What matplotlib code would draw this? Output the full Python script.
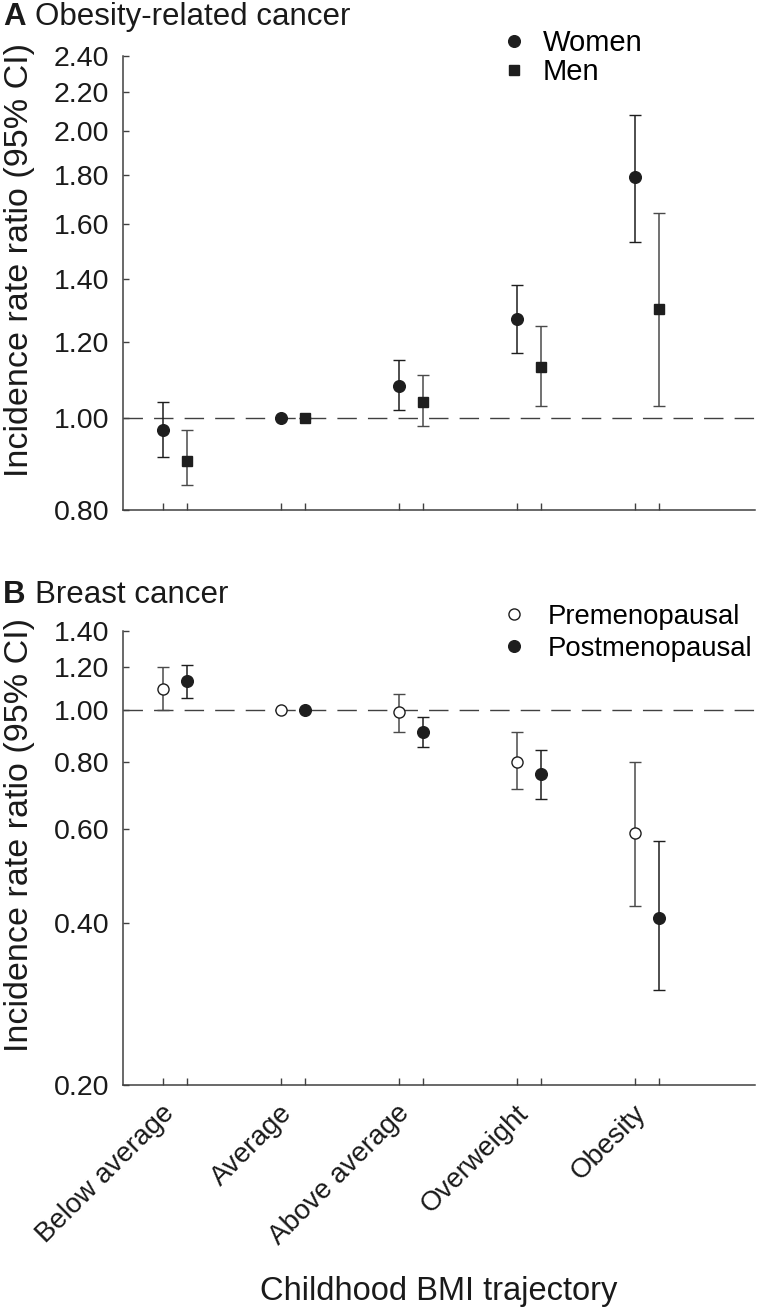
import matplotlib

matplotlib.use("Agg")
import matplotlib.pyplot as plt
import numpy as np
from matplotlib.lines import Line2D
from matplotlib.ticker import FixedLocator, FixedFormatter, NullLocator

plt.rcParams["font.family"] = ["Liberation Sans", "DejaVu Sans"]

# --- data ---
categories = ["Below average", "Average", "Above average", "Overweight", "Obesity"]

# Panel A: obesity-related cancer
women_irr = [0.97, 1.00, 1.08, 1.27, 1.79]
women_lo = [0.91, 1.00, 1.02, 1.17, 1.53]
women_hi = [1.04, 1.00, 1.15, 1.38, 2.08]
men_irr = [0.90, 1.00, 1.04, 1.13, 1.30]
men_lo = [0.85, 1.00, 0.98, 1.03, 1.03]
men_hi = [0.97, 1.00, 1.11, 1.25, 1.64]
ticks_a = [0.80, 1.00, 1.20, 1.40, 1.60, 1.80, 2.00, 2.20, 2.40]

# Panel B: breast cancer
pre_irr = [1.09, 1.00, 0.99, 0.80, 0.59]
pre_lo = [1.00, 1.00, 0.91, 0.71, 0.43]
pre_hi = [1.20, 1.00, 1.07, 0.91, 0.80]
post_irr = [1.13, 1.00, 0.91, 0.76, 0.41]
post_lo = [1.05, 1.00, 0.85, 0.68, 0.30]
post_hi = [1.21, 1.00, 0.97, 0.84, 0.57]
ticks_b = [0.20, 0.40, 0.60, 0.80, 1.00, 1.20, 1.40]

W, H = 758, 1310
fig = plt.figure(figsize=(W / 100, H / 100), dpi=100)


def px_axes(left, top, right, bottom):
    return fig.add_axes([left / W, 1 - bottom / H, (right - left) / W, (bottom - top) / H])


ax_a = px_axes(123, 56, 755, 510)
ax_b = px_axes(123, 631, 755, 1085)

x = np.arange(1, len(categories) + 1)
off = 0.1
DARK = "#1e1e1e"
GREY = "#4a4a4a"
TEXT = "#1a1a1a"


def draw_series(ax, vals, lo, hi, xs, marker, ms, face, ecol):
    vals, lo, hi = np.array(vals), np.array(lo), np.array(hi)
    ax.errorbar(xs, vals, yerr=[vals - lo, hi - vals], fmt=marker, ms=ms,
                mfc=face, mec=DARK, mew=1.0, ecolor=ecol, elinewidth=1.1,
                capsize=4.3, capthick=1.1, zorder=3)


def style_axis(ax, ticks, bottom, top):
    ax.set_yscale("log")
    ax.set_ylim(bottom, top)
    ax.set_xlim(0.56, 5.915)
    ax.yaxis.set_major_locator(FixedLocator(ticks))
    ax.yaxis.set_major_formatter(FixedFormatter([f"{t:.2f}" for t in ticks]))
    ax.yaxis.set_minor_locator(NullLocator())
    ax.set_xticks(np.concatenate([x - off, x + off]))
    ax.set_xticklabels([])
    for s in ("top", "right"):
        ax.spines[s].set_visible(False)
    for s in ("left", "bottom"):
        ax.spines[s].set_color("#404040")
        ax.spines[s].set_linewidth(1.1)
    ax.tick_params(axis="y", direction="in", length=4, width=1, color="#404040",
                   labelsize=20.5, pad=10, labelcolor=TEXT)
    ax.tick_params(axis="x", which="major", direction="in", length=5, width=1,
                   color="#404040")
    ax.axhline(1.0, color="#404040", lw=1.0, dashes=(14, 8), zorder=1)
    ax.set_ylabel("Incidence rate ratio (95% CI)", fontsize=24.5, color=TEXT)
    ax.yaxis.set_label_coords(-0.14, 0.55)


# Panel A
draw_series(ax_a, women_irr, women_lo, women_hi, x - off, "o", 8.4, DARK, DARK)
draw_series(ax_a, men_irr, men_lo, men_hi, x + off, "s", 7.6, DARK, GREY)
style_axis(ax_a, ticks_a, 0.80, 2.40)
leg_a = [Line2D([], [], ls="", marker="o", ms=8.4, mfc=DARK, mec=DARK),
         Line2D([], [], ls="", marker="s", ms=7.6, mfc=DARK, mec=DARK)]
ax_a.legend(leg_a, ["Women", "Men"], loc="upper left", bbox_to_anchor=(499 / W, 1 - 29 / H),
            bbox_transform=fig.transFigure, frameon=False, fontsize=21,
            handlelength=1.0, handletextpad=0.5, labelspacing=0.05, borderpad=0,
            borderaxespad=0)

# Panel B
draw_series(ax_b, pre_irr, pre_lo, pre_hi, x - off, "o", 8.0, "white", GREY)
draw_series(ax_b, post_irr, post_lo, post_hi, x + off, "o", 8.4, DARK, DARK)
style_axis(ax_b, ticks_b, 0.20, 1.40)
leg_b = [Line2D([], [], ls="", marker="o", ms=8.0, mfc="white", mec=DARK),
         Line2D([], [], ls="", marker="o", ms=8.4, mfc=DARK, mec=DARK)]
ax_b.legend(leg_b, ["Premenopausal", "Postmenopausal"], loc="upper left",
            bbox_to_anchor=(500 / W, 1 - 604 / H), bbox_transform=fig.transFigure,
            frameon=False, fontsize=19.8, handlelength=1.0, handletextpad=0.75,
            labelspacing=0.2, borderpad=0, borderaxespad=0)

# category labels under panel B
ax_b.set_xticks(x - 0.12, categories, minor=True)
ax_b.tick_params(axis="x", which="minor", length=0, pad=11, labelsize=20,
                 labelcolor=TEXT)
for lbl in ax_b.get_xticklabels(minor=True):
    lbl.set_rotation(45)
    lbl.set_ha("right")
    lbl.set_va("top")
    lbl.set_rotation_mode("anchor")
ax_b.set_xlabel("Childhood BMI trajectory", fontsize=23.5, color=TEXT)
ax_b.xaxis.set_label_coords(0.5, -0.42)

# panel titles
for ypix, letter, title in [(25, "A", "Obesity-related cancer"), (603, "B", "Breast cancer")]:
    fig.text(3 / W, 1 - ypix / H, letter, fontsize=22.5, fontweight="bold",
             va="baseline", color=TEXT)
    fig.text(35 / W, 1 - ypix / H, title, fontsize=22.5, va="baseline", color=TEXT)

fig.savefig("out.png", dpi=100)
